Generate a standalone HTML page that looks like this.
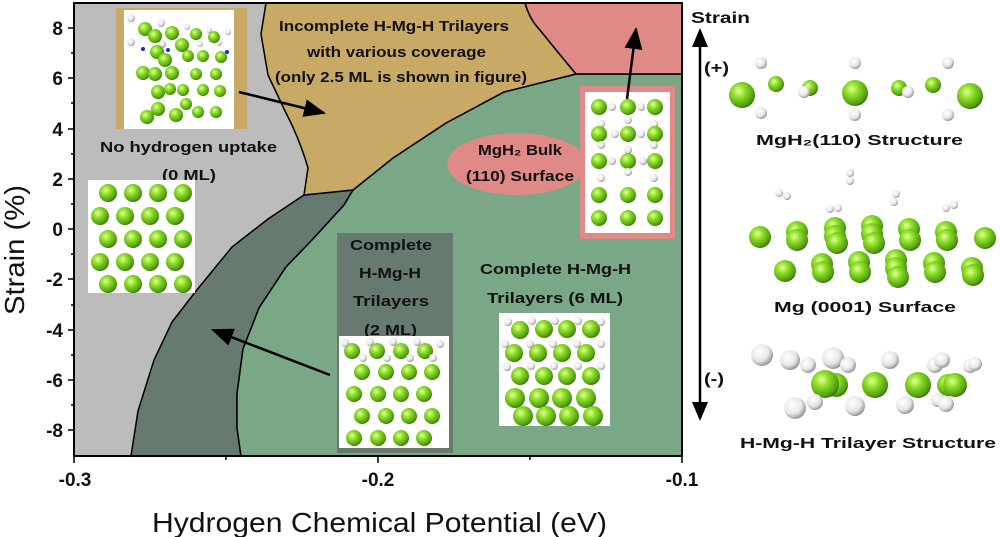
<!DOCTYPE html>
<html><head><meta charset="utf-8"><style>
html,body{margin:0;padding:0;background:#fff;width:1000px;height:537px;overflow:hidden}
svg{display:block}
text{font-family:"Liberation Sans",Arial,sans-serif}
.b{font-weight:bold;font-size:15px;fill:#111;text-anchor:middle}
.t{font-weight:bold;font-size:19px;fill:#111}
</style></head><body>
<svg width="1000" height="537" viewBox="0 0 1000 537" xmlns="http://www.w3.org/2000/svg">
<defs>
<radialGradient id="g" cx="0.38" cy="0.35" r="0.7"><stop offset="0" stop-color="#e6ff9a"/><stop offset="0.35" stop-color="#8fe02a"/><stop offset="0.85" stop-color="#4f9a10"/><stop offset="1" stop-color="#2f5a08"/></radialGradient>
<radialGradient id="w" cx="0.38" cy="0.35" r="0.7"><stop offset="0" stop-color="#ffffff"/><stop offset="0.6" stop-color="#e6e6e6"/><stop offset="1" stop-color="#8a8a8a"/></radialGradient>
<marker id="ah" markerWidth="22" markerHeight="18" refX="20" refY="9" orient="auto" markerUnits="userSpaceOnUse"><path d="M0,0 L22,9 L0,18 z" fill="#000"/></marker>
</defs>
<rect x="74" y="3" width="608" height="453" fill="#bcbcbc"/>
<path d="M304,195 L353,190 L344,205 L312,240 L286,267 L259,308 L243,349 L237,394 L237,428 L241,456 L131,456 L138,411 L154,360 L172,322 L196,291 L232,247 L268,219 Z" fill="#667a70" stroke="#000" stroke-width="1.5"/>
<path d="M353,190 L393,158 L446,123 L504,92 L576,74 L682,74 L682,456 L241,456 L237,428 L237,394 L243,349 L259,308 L286,267 L312,240 L344,205 Z" fill="#7aa887" stroke="#000" stroke-width="1.5"/>
<path d="M266,3 L525,3 Q530,20 540,30 Q556,50 576,74 L504,92 L446,123 L393,158 L353,190 L304,195 L308,168 Q300,140 286,113 L268,75 L261,34 Z" fill="#c9a966" stroke="#000" stroke-width="1.5"/>
<path d="M525,3 L682,3 L682,74 L576,74 Q556,50 540,30 Q530,20 525,3 Z" fill="#df8a86" stroke="#000" stroke-width="1.5"/>
<rect x="74" y="3" width="608" height="453" fill="none" stroke="#000" stroke-width="2"/>
<g stroke="#000" stroke-width="1.5">
<line x1="68" y1="28" x2="74" y2="28"/><line x1="68" y1="78" x2="74" y2="78"/><line x1="68" y1="129" x2="74" y2="129"/><line x1="68" y1="179" x2="74" y2="179"/><line x1="68" y1="229" x2="74" y2="229"/><line x1="68" y1="279" x2="74" y2="279"/><line x1="68" y1="330" x2="74" y2="330"/><line x1="68" y1="380" x2="74" y2="380"/><line x1="68" y1="430" x2="74" y2="430"/>
<line x1="71" y1="53" x2="74" y2="53"/><line x1="71" y1="103" x2="74" y2="103"/><line x1="71" y1="154" x2="74" y2="154"/><line x1="71" y1="204" x2="74" y2="204"/><line x1="71" y1="254" x2="74" y2="254"/><line x1="71" y1="305" x2="74" y2="305"/><line x1="71" y1="355" x2="74" y2="355"/><line x1="71" y1="405" x2="74" y2="405"/>
<line x1="74" y1="456" x2="74" y2="463"/><line x1="378" y1="456" x2="378" y2="463"/><line x1="682" y1="456" x2="682" y2="463"/><line x1="226" y1="456" x2="226" y2="460"/><line x1="530" y1="456" x2="530" y2="460"/>
</g>
<g class="t" text-anchor="end">
<text x="63" y="35">8</text><text x="63" y="85">6</text><text x="63" y="136">4</text><text x="63" y="186">2</text><text x="63" y="236">0</text><text x="63" y="286">-2</text><text x="63" y="337">-4</text><text x="63" y="387">-6</text><text x="63" y="437">-8</text>
</g>
<g class="t" text-anchor="middle">
<text x="75" y="486">-0.3</text><text x="378" y="486">-0.2</text><text x="682" y="486">-0.1</text>
</g>
<text x="152" y="532" font-size="28" fill="#111" textLength="455" lengthAdjust="spacingAndGlyphs">Hydrogen Chemical Potential (eV)</text>
<text transform="translate(24,315) rotate(-90)" font-size="28" fill="#111" textLength="130" lengthAdjust="spacingAndGlyphs">Strain (%)</text>

<text class="b" x="279" y="31" text-anchor="start" textLength="230" lengthAdjust="spacingAndGlyphs" style="text-anchor:start">Incomplete H-Mg-H Trilayers</text>
<text class="b" x="307" y="57" style="text-anchor:start" textLength="179" lengthAdjust="spacingAndGlyphs">with various coverage</text>
<text class="b" x="275" y="82" style="text-anchor:start" textLength="252" lengthAdjust="spacingAndGlyphs">(only 2.5 ML is shown in figure)</text>
<text class="b" x="100" y="152" style="text-anchor:start" textLength="177" lengthAdjust="spacingAndGlyphs">No hydrogen uptake</text>
<text class="b" x="162" y="180" style="text-anchor:start" textLength="54" lengthAdjust="spacingAndGlyphs">(0 ML)</text>
<ellipse cx="517" cy="164" rx="70" ry="31" fill="#df8a86"/>
<text class="b" x="478" y="155" style="text-anchor:start" textLength="84" lengthAdjust="spacingAndGlyphs">MgH₂ Bulk</text>
<text class="b" x="466" y="181" style="text-anchor:start" textLength="108" lengthAdjust="spacingAndGlyphs">(110) Surface</text>
<rect x="337" y="233" width="116" height="220" fill="#667a70"/>
<text class="b" x="350" y="250" style="text-anchor:start" textLength="82" lengthAdjust="spacingAndGlyphs">Complete</text>
<text class="b" x="359" y="278" style="text-anchor:start" textLength="62" lengthAdjust="spacingAndGlyphs">H-Mg-H</text>
<text class="b" x="353" y="306" style="text-anchor:start" textLength="76" lengthAdjust="spacingAndGlyphs">Trilayers</text>
<text class="b" x="364" y="335" style="text-anchor:start" textLength="53" lengthAdjust="spacingAndGlyphs">(2 ML)</text>
<text class="b" x="480" y="274" style="text-anchor:start" textLength="151" lengthAdjust="spacingAndGlyphs">Complete H-Mg-H</text>
<text class="b" x="487" y="303" style="text-anchor:start" textLength="136" lengthAdjust="spacingAndGlyphs">Trilayers (6 ML)</text>

<rect x="116" y="8" width="131" height="121" fill="#c9a966"/>
<rect x="124" y="10" width="110" height="119" fill="#fff"/>
<g>
<circle cx="131" cy="18" r="4" fill="url(#w)"/><circle cx="161" cy="23" r="4" fill="url(#w)"/><circle cx="131" cy="42" r="4" fill="url(#w)"/><circle cx="187" cy="27" r="3" fill="url(#w)"/><circle cx="209" cy="30" r="3" fill="url(#w)"/><circle cx="228" cy="32" r="3" fill="url(#w)"/><circle cx="162" cy="44" r="4" fill="url(#w)"/><circle cx="200" cy="44" r="3" fill="url(#w)"/><circle cx="219" cy="43" r="3" fill="url(#w)"/>
<circle cx="143" cy="49" r="2" fill="#1a2fd0"/><circle cx="168" cy="50" r="2" fill="#1a2fd0"/><circle cx="227" cy="52" r="2" fill="#1a2fd0"/>
<circle cx="145" cy="29" r="7" fill="url(#g)"/><circle cx="155" cy="36" r="7" fill="url(#g)"/><circle cx="172" cy="33" r="7" fill="url(#g)"/><circle cx="182" cy="45" r="7" fill="url(#g)"/><circle cx="196" cy="34" r="6" fill="url(#g)"/><circle cx="214" cy="37" r="6" fill="url(#g)"/><circle cx="157" cy="52" r="7" fill="url(#g)"/><circle cx="165" cy="60" r="7" fill="url(#g)"/><circle cx="188" cy="56" r="6" fill="url(#g)"/><circle cx="203" cy="56" r="6" fill="url(#g)"/><circle cx="221" cy="57" r="6" fill="url(#g)"/>
<circle cx="143" cy="73" r="7" fill="url(#g)"/><circle cx="155" cy="74" r="7" fill="url(#g)"/><circle cx="172" cy="73" r="7" fill="url(#g)"/><circle cx="196" cy="74" r="6" fill="url(#g)"/><circle cx="216" cy="74" r="6" fill="url(#g)"/>
<circle cx="158" cy="92" r="7" fill="url(#g)"/><circle cx="170" cy="89" r="6" fill="url(#g)"/><circle cx="183" cy="90" r="6" fill="url(#g)"/><circle cx="203" cy="90" r="6" fill="url(#g)"/><circle cx="220" cy="91" r="6" fill="url(#g)"/>
<circle cx="147" cy="117" r="7" fill="url(#g)"/><circle cx="158" cy="109" r="7" fill="url(#g)"/><circle cx="176" cy="115" r="7" fill="url(#g)"/><circle cx="186" cy="104" r="6" fill="url(#g)"/><circle cx="198" cy="112" r="6" fill="url(#g)"/><circle cx="216" cy="112" r="6" fill="url(#g)"/>
</g>
<line x1="239" y1="92" x2="324" y2="113" stroke="#000" stroke-width="2.5" marker-end="url(#ah)"/>

<rect x="88" y="180" width="107" height="113" fill="#fff"/>
<g fill="url(#g)">
<circle cx="108" cy="193" r="9"/><circle cx="133" cy="193" r="9"/><circle cx="158" cy="193" r="9"/><circle cx="183" cy="193" r="9"/>
<circle cx="100" cy="216" r="9"/><circle cx="125" cy="216" r="9"/><circle cx="150" cy="216" r="9"/><circle cx="175" cy="216" r="9"/>
<circle cx="108" cy="239" r="9"/><circle cx="133" cy="239" r="9"/><circle cx="158" cy="239" r="9"/><circle cx="183" cy="239" r="9"/>
<circle cx="100" cy="262" r="9"/><circle cx="125" cy="262" r="9"/><circle cx="150" cy="262" r="9"/><circle cx="175" cy="262" r="9"/>
<circle cx="108" cy="284" r="9"/><circle cx="133" cy="284" r="9"/><circle cx="158" cy="284" r="9"/><circle cx="183" cy="284" r="9"/>
</g>

<rect x="580" y="86" width="95" height="153" fill="#df8a86"/>
<rect x="585" y="92" width="85" height="141" fill="#fff"/>
<g>
<circle cx="599" cy="107" r="8" fill="url(#g)"/><circle cx="628" cy="107" r="8" fill="url(#g)"/><circle cx="655" cy="107" r="8" fill="url(#g)"/>
<circle cx="612" cy="107" r="4" fill="url(#w)"/><circle cx="641" cy="107" r="4" fill="url(#w)"/><circle cx="628" cy="120" r="4" fill="url(#w)"/>
<circle cx="601" cy="124" r="4" fill="url(#w)"/><circle cx="654" cy="124" r="4" fill="url(#w)"/>
<circle cx="599" cy="134" r="8" fill="url(#g)"/><circle cx="628" cy="134" r="8" fill="url(#g)"/><circle cx="655" cy="134" r="8" fill="url(#g)"/>
<circle cx="615" cy="134" r="4" fill="url(#w)"/><circle cx="641" cy="134" r="4" fill="url(#w)"/><circle cx="601" cy="145" r="4" fill="url(#w)"/><circle cx="654" cy="145" r="4" fill="url(#w)"/><circle cx="628" cy="150" r="4" fill="url(#w)"/>
<circle cx="599" cy="161" r="8" fill="url(#g)"/><circle cx="628" cy="161" r="8" fill="url(#g)"/><circle cx="655" cy="161" r="8" fill="url(#g)"/>
<circle cx="612" cy="161" r="4" fill="url(#w)"/><circle cx="643" cy="161" r="4" fill="url(#w)"/><circle cx="628" cy="172" r="4" fill="url(#w)"/><circle cx="601" cy="178" r="4" fill="url(#w)"/><circle cx="654" cy="178" r="4" fill="url(#w)"/>
<circle cx="599" cy="195" r="8" fill="url(#g)"/><circle cx="628" cy="195" r="8" fill="url(#g)"/><circle cx="655" cy="195" r="8" fill="url(#g)"/>
<circle cx="599" cy="218" r="8" fill="url(#g)"/><circle cx="628" cy="218" r="8" fill="url(#g)"/><circle cx="655" cy="218" r="8" fill="url(#g)"/>
</g>
<line x1="627" y1="99" x2="636" y2="29" stroke="#000" stroke-width="2.5" marker-end="url(#ah)"/>

<rect x="339" y="336" width="110" height="112" fill="#fff"/>
<g>
<circle cx="352" cy="351" r="8" fill="url(#g)"/><circle cx="377" cy="351" r="8" fill="url(#g)"/><circle cx="401" cy="351" r="8" fill="url(#g)"/><circle cx="425" cy="351" r="8" fill="url(#g)"/>
<circle cx="345" cy="343" r="4" fill="url(#w)"/><circle cx="370" cy="342" r="4" fill="url(#w)"/><circle cx="393" cy="342" r="4" fill="url(#w)"/><circle cx="417" cy="342" r="4" fill="url(#w)"/><circle cx="440" cy="344" r="4" fill="url(#w)"/>
<circle cx="363" cy="358" r="4" fill="url(#w)"/><circle cx="387" cy="358" r="4" fill="url(#w)"/><circle cx="410" cy="358" r="4" fill="url(#w)"/><circle cx="433" cy="358" r="4" fill="url(#w)"/>
</g>
<g fill="url(#g)">
<circle cx="362" cy="372" r="8"/><circle cx="386" cy="372" r="8"/><circle cx="409" cy="372" r="8"/><circle cx="432" cy="372" r="8"/>
<circle cx="354" cy="394" r="8"/><circle cx="378" cy="394" r="8"/><circle cx="401" cy="394" r="8"/><circle cx="424" cy="394" r="8"/>
<circle cx="362" cy="416" r="8"/><circle cx="386" cy="416" r="8"/><circle cx="409" cy="416" r="8"/><circle cx="432" cy="416" r="8"/>
<circle cx="354" cy="438" r="8"/><circle cx="378" cy="438" r="8"/><circle cx="401" cy="438" r="8"/><circle cx="424" cy="438" r="8"/>
</g>
<line x1="330" y1="375" x2="213" y2="330" stroke="#000" stroke-width="2.5" marker-end="url(#ah)"/>

<rect x="499" y="313" width="111" height="113" fill="#fff"/>
<g>
<circle cx="520" cy="330" r="9" fill="url(#g)"/><circle cx="544" cy="329" r="9" fill="url(#g)"/><circle cx="567" cy="329" r="9" fill="url(#g)"/><circle cx="591" cy="329" r="9" fill="url(#g)"/>
<circle cx="508" cy="322" r="4" fill="url(#w)"/><circle cx="532" cy="321" r="4" fill="url(#w)"/><circle cx="555" cy="321" r="4" fill="url(#w)"/><circle cx="578" cy="321" r="4" fill="url(#w)"/><circle cx="601" cy="322" r="4" fill="url(#w)"/>
<circle cx="514" cy="353" r="9" fill="url(#g)"/><circle cx="538" cy="353" r="9" fill="url(#g)"/><circle cx="562" cy="353" r="9" fill="url(#g)"/><circle cx="586" cy="353" r="9" fill="url(#g)"/>
<circle cx="505" cy="344" r="4" fill="url(#w)"/><circle cx="530" cy="344" r="4" fill="url(#w)"/><circle cx="553" cy="344" r="4" fill="url(#w)"/><circle cx="577" cy="344" r="4" fill="url(#w)"/><circle cx="601" cy="344" r="4" fill="url(#w)"/>
<circle cx="520" cy="376" r="9" fill="url(#g)"/><circle cx="544" cy="376" r="9" fill="url(#g)"/><circle cx="567" cy="376" r="9" fill="url(#g)"/><circle cx="591" cy="376" r="9" fill="url(#g)"/>
<circle cx="507" cy="367" r="4" fill="url(#w)"/><circle cx="531" cy="366" r="4" fill="url(#w)"/><circle cx="554" cy="366" r="4" fill="url(#w)"/><circle cx="578" cy="366" r="4" fill="url(#w)"/><circle cx="601" cy="366" r="4" fill="url(#w)"/>
<circle cx="515" cy="398" r="10" fill="url(#g)"/><circle cx="539" cy="398" r="10" fill="url(#g)"/><circle cx="562" cy="398" r="10" fill="url(#g)"/><circle cx="586" cy="398" r="10" fill="url(#g)"/>
<circle cx="523" cy="416" r="10" fill="url(#g)"/><circle cx="546" cy="416" r="10" fill="url(#g)"/><circle cx="569" cy="416" r="10" fill="url(#g)"/><circle cx="593" cy="416" r="10" fill="url(#g)"/>
</g>

<text x="691" y="23" font-size="16" font-weight="bold" fill="#111" textLength="59" lengthAdjust="spacingAndGlyphs">Strain</text>
<line x1="700" y1="44" x2="700" y2="406" stroke="#000" stroke-width="2.5"/>
<path d="M692,47 L700,28 L708,47 Z" fill="#000"/>
<path d="M692,402 L700,421 L708,402 Z" fill="#000"/>
<text x="704" y="73" font-size="16" font-weight="bold" fill="#111" textLength="25" lengthAdjust="spacingAndGlyphs">(+)</text>
<text x="704" y="384" font-size="16" font-weight="bold" fill="#111" textLength="20" lengthAdjust="spacingAndGlyphs">(-)</text>

<g>
<circle cx="742" cy="95" r="13" fill="url(#g)"/><circle cx="776" cy="84" r="8" fill="url(#g)"/><circle cx="810" cy="88" r="8" fill="url(#g)"/><circle cx="855" cy="93" r="13" fill="url(#g)"/><circle cx="899" cy="88" r="8" fill="url(#g)"/><circle cx="933" cy="85" r="8" fill="url(#g)"/><circle cx="970" cy="96" r="13" fill="url(#g)"/>
<circle cx="761" cy="63" r="6" fill="url(#w)"/><circle cx="855" cy="63" r="6" fill="url(#w)"/><circle cx="948" cy="63" r="6" fill="url(#w)"/>
<circle cx="761" cy="113" r="6" fill="url(#w)"/><circle cx="855" cy="115" r="6" fill="url(#w)"/><circle cx="948" cy="115" r="6" fill="url(#w)"/>
<circle cx="804" cy="92" r="6" fill="url(#w)"/><circle cx="908" cy="92" r="6" fill="url(#w)"/>
</g>
<text class="b" x="756" y="145" font-size="17" style="text-anchor:start" textLength="207" lengthAdjust="spacingAndGlyphs">MgH₂(110) Structure</text>

<g>
<circle cx="850" cy="173" r="4" fill="url(#w)"/><circle cx="850" cy="181" r="4" fill="url(#w)"/>
<circle cx="779" cy="193" r="4" fill="url(#w)"/><circle cx="787" cy="196" r="4" fill="url(#w)"/>
<circle cx="830" cy="209" r="4" fill="url(#w)"/><circle cx="838" cy="208" r="4" fill="url(#w)"/>
<circle cx="896" cy="194" r="4" fill="url(#w)"/><circle cx="894" cy="202" r="4" fill="url(#w)"/>
<circle cx="946" cy="208" r="4" fill="url(#w)"/><circle cx="954" cy="205" r="4" fill="url(#w)"/>
</g>
<g fill="url(#g)">
<circle cx="760" cy="237" r="11"/><circle cx="797" cy="232" r="11"/><circle cx="797" cy="240" r="11"/><circle cx="835" cy="228" r="11"/><circle cx="835" cy="236" r="11"/><circle cx="837" cy="243" r="11"/><circle cx="872" cy="226" r="11"/><circle cx="872" cy="234" r="11"/><circle cx="874" cy="243" r="11"/><circle cx="909" cy="229" r="11"/><circle cx="910" cy="240" r="11"/><circle cx="946" cy="232" r="11"/><circle cx="947" cy="240" r="11"/><circle cx="985" cy="238" r="11"/>
<circle cx="785" cy="271" r="11"/><circle cx="822" cy="264" r="11"/><circle cx="823" cy="272" r="11"/><circle cx="859" cy="262" r="11"/><circle cx="860" cy="272" r="11"/><circle cx="896" cy="260" r="11"/><circle cx="896" cy="268" r="11"/><circle cx="898" cy="277" r="11"/><circle cx="934" cy="263" r="11"/><circle cx="935" cy="272" r="11"/><circle cx="972" cy="268" r="11"/><circle cx="973" cy="275" r="11"/>
</g>
<text class="b" x="774" y="312" font-size="17" style="text-anchor:start" textLength="182" lengthAdjust="spacingAndGlyphs">Mg (0001) Surface</text>

<g>
<circle cx="762" cy="355" r="11" fill="url(#w)"/><circle cx="790" cy="360" r="10" fill="url(#w)"/><circle cx="808" cy="365" r="8" fill="url(#w)"/><circle cx="833" cy="358" r="11" fill="url(#w)"/><circle cx="848" cy="365" r="8" fill="url(#w)"/><circle cx="890" cy="360" r="9" fill="url(#w)"/><circle cx="935" cy="365" r="8" fill="url(#w)"/><circle cx="942" cy="360" r="8" fill="url(#w)"/><circle cx="970" cy="366" r="7" fill="url(#w)"/><circle cx="975" cy="364" r="7" fill="url(#w)"/>
<circle cx="836" cy="385" r="12" fill="url(#g)"/><circle cx="825" cy="384" r="14" fill="url(#g)"/><circle cx="875" cy="385" r="13" fill="url(#g)"/><circle cx="918" cy="385" r="13" fill="url(#g)"/><circle cx="948" cy="385" r="11" fill="url(#g)"/><circle cx="955" cy="385" r="12" fill="url(#g)"/>
<circle cx="795" cy="408" r="11" fill="url(#w)"/><circle cx="815" cy="402" r="8" fill="url(#w)"/><circle cx="855" cy="406" r="10" fill="url(#w)"/><circle cx="905" cy="405" r="9" fill="url(#w)"/><circle cx="938" cy="400" r="7" fill="url(#w)"/><circle cx="946" cy="404" r="8" fill="url(#w)"/>
</g>
<text class="b" x="740" y="448" font-size="17" style="text-anchor:start" textLength="256" lengthAdjust="spacingAndGlyphs">H-Mg-H Trilayer Structure</text>
</svg>
</body></html>
